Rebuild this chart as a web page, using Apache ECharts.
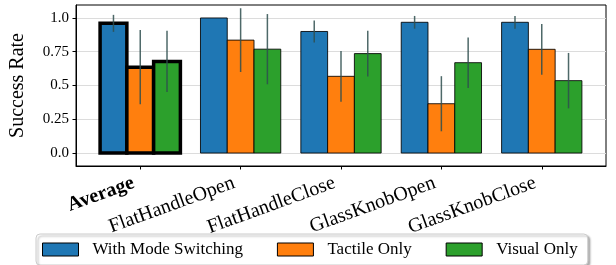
<!DOCTYPE html>
<html>
<head>
<meta charset="utf-8">
<script src="https://cdn.jsdelivr.net/npm/echarts@6/dist/echarts.min.js"></script>
<style>
  html, body { margin: 0; padding: 0; background: #fff; }
  #chart { width: 616px; height: 265px; }
</style>
</head>
<body>
<div id="chart"></div>
<script>
const categories = ['Average', 'FlatHandleOpen', 'FlatHandleClose', 'GlassKnobOpen', 'GlassKnobClose']
const seriesNames = ['With Mode Switching', 'Tactile Only', 'Visual Only']
const modeSwitching = [0.96, 1.0, 0.90, 0.968, 0.968]
const modeSwitchingErr = [0.063, 0, 0.082, 0.047, 0.047]
const tactileOnly = [0.636, 0.836, 0.568, 0.365, 0.768]
const tactileOnlyErr = [0.275, 0.236, 0.188, 0.204, 0.188]
const visualOnly = [0.678, 0.769, 0.736, 0.669, 0.536]
const visualOnlyErr = [0.227, 0.26, 0.17, 0.187, 0.205]
const yTicks = [0, 0.25, 0.5, 0.75, 1.0]
const yTickLabels = ['0.0', '0.25', '0.5', '0.75', '1.0']

const colors = ['#1f77b4', '#ff7f0e', '#2ca02c']
const FONT = '"Liberation Serif", "DejaVu Serif", serif'
const barW = 0.8 / 3

function makeSeries(idx, values, errs) {
  const off = (idx - 1) * barW
  return {
    name: seriesNames[idx],
    type: 'custom',
    itemStyle: { color: colors[idx], borderColor: '#000', borderWidth: 1 },
    data: values.map((v, i) => [i, v, errs[i]]),
    encode: { x: 0, y: 1 },
    renderItem: (params, api) => {
      const x = api.value(0), v = api.value(1), e = api.value(2)
      const p0 = api.coord([x + off - barW / 2, v])
      const p1 = api.coord([x + off + barW / 2, 0])
      const thick = x === 0
      const children = [{
        type: 'rect',
        shape: { x: p0[0], y: p0[1], width: p1[0] - p0[0], height: p1[1] - p0[1] },
        style: { fill: colors[idx], stroke: thick ? '#000' : 'rgba(0,0,0,0.85)', lineWidth: thick ? 3.5 : 1 },
      }]
      if (e > 0) {
        const a = api.coord([x + off, v + e])
        const b = api.coord([x + off, v - e])
        children.push({
          type: 'line',
          shape: { x1: a[0], y1: a[1], x2: b[0], y2: b[1] },
          style: { stroke: 'rgba(47,79,79,0.85)', lineWidth: 1.5 },
        })
      }
      return { type: 'group', children }
    },
  }
}

const chart = echarts.init(document.getElementById('chart'))
chart.setOption({
  animation: false,
  backgroundColor: '#fff',
  grid: { left: 70, right: 10, top: 5, bottom: 99, show: true, borderColor: '#000', borderWidth: 1 },
  xAxis: {
    type: 'value',
    min: -0.64,
    max: 4.64,
    splitLine: { show: false },
    axisLine: { show: true, onZero: false, lineStyle: { color: '#000' } },
    axisTick: { show: true, customValues: [0, 1, 2, 3, 4], length: 3.5, lineStyle: { color: '#000' } },
    axisLabel: {
      customValues: [0, 1, 2, 3, 4],
      formatter: v => v === 0 ? '{b|' + categories[0] + '}' : categories[v],
      rotate: 20,
      margin: 14,
      padding: [0, 7, 0, 0],
      color: '#000',
      fontFamily: FONT,
      fontSize: 20,
      rich: { b: { fontWeight: 'bold', fontFamily: FONT, fontSize: 20, color: '#000' } },
    },
  },
  yAxis: {
    type: 'value',
    min: -0.096,
    max: 1.096,
    name: 'Success Rate',
    nameLocation: 'middle',
    nameGap: 48,
    nameTextStyle: { fontFamily: FONT, fontSize: 20, color: '#000' },
    axisLine: { show: true, onZero: false, lineStyle: { color: '#000' } },
    axisTick: { show: true, customValues: yTicks, length: 3.5, lineStyle: { color: '#000' } },
    axisLabel: {
      customValues: yTicks,
      formatter: v => yTickLabels[yTicks.indexOf(v)],
      margin: 7,
      color: '#000',
      fontFamily: FONT,
      fontSize: 15,
    },
    splitLine: { show: true, lineStyle: { color: '#dcdcdc', width: 1 } },
  },
  legend: {
    data: seriesNames,
    left: 36,
    top: 234,
    icon: 'rect',
    itemWidth: 36,
    itemHeight: 13,
    itemGap: 34,
    padding: [7, 10, 7, 6],
    backgroundColor: '#fff',
    borderColor: '#cccccc',
    borderWidth: 1,
    borderRadius: 4,
    shadowColor: 'rgba(0,0,0,0.3)',
    shadowBlur: 2,
    shadowOffsetX: 2,
    shadowOffsetY: 2,
    itemStyle: { borderColor: '#000', borderWidth: 1 },
    textStyle: { fontFamily: FONT, fontSize: 17, color: '#000', padding: [0, 0, 0, 9] },
  },
  series: [
    makeSeries(0, modeSwitching, modeSwitchingErr),
    makeSeries(1, tactileOnly, tactileOnlyErr),
    makeSeries(2, visualOnly, visualOnlyErr),
  ],
})
</script>
</body>
</html>
